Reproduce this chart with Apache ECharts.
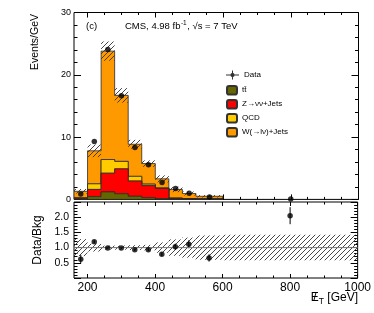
<!DOCTYPE html>
<html><head><meta charset="utf-8">
<script src="https://cdn.jsdelivr.net/npm/echarts@6/dist/echarts.min.js"></script>
<style>html,body{margin:0;padding:0;background:#fff}#c{width:374px;height:313px}</style>
</head><body><div id="c"></div>
<script>
// ---- data ----
const binEdges = [160,200,240,280,320,360,400,440,480,520,600];
const ttbar = [0.05,0.45,1.2,0.9,0.5,0.27,0.12,0.05,0.03,0.02];
const zjets = [0.15,1.15,3.0,4.0,2.45,1.93,1.63,0.12,0.07,0.03];
const qcd   = [0.05,0.9,2.2,1.2,0.75,0.25,0.1,0.03,0.02,0.01];
const wjets = [1.05,5.3,17.4,10.6,5.15,3.3,1.45,1.4,0.83,0.44];
const ratioEdges = [160,200,240,280,320,360,400,440,480,520,600,1000];
const relUnc = [0.28,0.13,0.065,0.07,0.08,0.09,0.17,0.27,0.33,0.40,0.42];
const dataX = [180,220,260,300,340,380,420,460,500,560,800];
const dataY = [0.85,9.3,24.05,16.65,8.35,5.55,2.7,1.75,1.0,0.4,0.08];
const ratioY = [0.62,1.19,0.99,0.99,0.93,0.93,0.78,1.03,1.11,0.66,2.05];
const ratioErr = [0.14,0.05,0.03,0.03,0.04,0.05,0.06,0.1,0.13,0.12,0.28];
const xMajor = [200,400,600,800,1000];
const xMinor = [250,300,350,450,500,550,650,700,750,850,900,950];
const legendNames = ['tt\u0304','Z\u2192\u03bd\u03bd+Jets','QCD','W(\u2192l\u03bd)+Jets'];
const colors = ['#666600','#ff0000','#ffcc00','#ff9900'];

const FONT = '"Liberation Sans", Arial, Helvetica, sans-serif';
const layers = [ttbar, zjets, qcd, wjets];
const lowers = [], uppers = [];
let run = ttbar.map(() => 0);
layers.forEach(l => { lowers.push(run.slice()); run = run.map((v,i) => v + l[i]); uppers.push(run.slice()); });
const total = run;

// hatch pattern
const hc = document.createElement('canvas'); hc.width = 5; hc.height = 5;
const hg = hc.getContext('2d'); hg.strokeStyle = '#333'; hg.lineWidth = 0.9;
hg.beginPath(); hg.moveTo(0,5); hg.lineTo(5,0); hg.moveTo(-1,1); hg.lineTo(1,-1); hg.moveTo(4,6); hg.lineTo(6,4); hg.stroke();
const hatch = {image: hc, repeat: 'repeat'};

const mc = document.createElement('canvas').getContext('2d');
function tw(t, s){ mc.font = s + 'px ' + FONT; return mc.measureText(t).width; }

function layerSeries(k){
  return {
    type:'custom', name: legendNames[k], xAxisIndex:0, yAxisIndex:0,
    itemStyle:{color: colors[k], borderColor:'#333', borderWidth:0.8},
    data:[[binEdges[0], 0]], clip:true, silent:true,
    renderItem(params, api){
      const lo = lowers[k], hi = uppers[k], pts = [];
      for (let i=0;i<hi.length;i++){ pts.push(api.coord([binEdges[i],hi[i]])); pts.push(api.coord([binEdges[i+1],hi[i]])); }
      for (let i=lo.length-1;i>=0;i--){ pts.push(api.coord([binEdges[i+1],lo[i]])); pts.push(api.coord([binEdges[i],lo[i]])); }
      return {type:'polygon', shape:{points:pts}, style:{fill:colors[k], stroke:'#2a2a2a', lineWidth:0.8}};
    }
  };
}

function xAx(grid, pos, vals, len, labels){
  return {type:'value', gridIndex:grid, position:pos, min:160, max:1000,
    axisLine:{show:false}, splitLine:{show:false},
    axisTick:{show:true, inside:true, length:len, customValues:vals, lineStyle:{color:'#000'}},
    axisLabel: labels ? {show:true, customValues:vals, fontSize:12, fontFamily:FONT, color:'#000', margin:4, formatter:v=>String(v)} : {show:false, customValues:vals}};
}
function yAx(grid, pos, max, interval, labels, fs, fmt, margin){
  return {type:'value', gridIndex:grid, position:pos, min:0, max:max, interval:interval,
    axisLine:{show:false}, splitLine:{show:false},
    axisTick:{show:true, inside:true, length:7, lineStyle:{color:'#000'}},
    minorTick:{show:true, splitNumber:5, length:3.5, lineStyle:{color:'#000'}},
    axisLabel: labels ? {show:true, fontSize:fs, fontFamily:FONT, color:'#000', margin:margin, formatter:fmt} : {show:false}};
}

const dataIcon = 'path://M0,4 L13,4 L13,5 L0,5 Z M6,0 L7,0 L7,9 L6,9 Z M8.7,4.5 L8.06,6.06 L6.5,6.7 L4.94,6.06 L4.3,4.5 L4.94,2.94 L6.5,2.3 L8.06,2.94 Z';

const chart = echarts.init(document.getElementById('c'), null, {renderer:'canvas'});

// x-title pieces
const xr = 358;
const wG = tw(' [GeV]', 12), wT = tw('T', 8.5), wE = tw('E', 12);
const xG = xr - wG, xT = xG - wT, xE = xT - wE;
const cmsA = 'CMS, 4.98 fb', cmsB = '-1', cmsC = ', \u221as = 7 TeV';
const cx0 = 125, cA = tw(cmsA, 9.5), cB = tw(cmsB, 6.5);

chart.setOption({
  animation:false,
  backgroundColor:'#fff',
  textStyle:{fontFamily:FONT},
  grid:[
    {left:74, top:12.5, width:284.5, height:186.9, show:true, borderColor:'#000', borderWidth:1, backgroundColor:'transparent', containLabel:false},
    {left:74, top:202, width:284.5, height:76, show:true, borderColor:'#000', borderWidth:1, backgroundColor:'transparent', containLabel:false}
  ],
  xAxis:[
    xAx(0,'bottom',xMajor,5,false), xAx(0,'bottom',xMinor,2.5,false),
    xAx(0,'top',xMajor,5,false), xAx(0,'top',xMinor,2.5,false),
    xAx(1,'bottom',xMajor,4,true), xAx(1,'bottom',xMinor,2.5,false),
    xAx(1,'top',xMajor,4,false), xAx(1,'top',xMinor,2.5,false)
  ],
  yAxis:[
    yAx(0,'left',30,10,true,9,v=>String(v),3),
    yAx(0,'right',30,10,false),
    yAx(1,'left',2.5,0.5,true,10.5,v=>(v<=0||v>=2.5)?'':v.toFixed(1),5),
    yAx(1,'right',2.5,0.5,false)
  ],
  legend:[
    {data:[{name:'Data', icon:dataIcon}], left:226, top:70.5, itemWidth:13, itemHeight:9, itemTextGap:3,
     textStyle:{fontSize:8, fontFamily:FONT, color:'#000'}, selectedMode:false, padding:0},
    {data:legendNames, orient:'vertical', left:226, top:85, itemWidth:10, itemHeight:8.5, itemGap:3.5, itemTextGap:7,
     textStyle:{fontSize:8, fontFamily:FONT, color:'#000'}, selectedMode:false, padding:0}
  ],
  graphic:[
    {type:'text', x:86, y:26.7, style:{text:'(c)', fontSize:9.5, fontFamily:FONT, fill:'#000', verticalAlign:'middle'}},
    {type:'text', x:cx0, y:26.7, style:{text:cmsA, fontSize:9.5, fontFamily:FONT, fill:'#000', verticalAlign:'middle'}},
    {type:'text', x:cx0+cA+0.5, y:23.5, style:{text:cmsB, fontSize:6.5, fontFamily:FONT, fill:'#000', verticalAlign:'middle'}},
    {type:'text', x:cx0+cA+cB+1, y:26.7, style:{text:cmsC, fontSize:9.5, fontFamily:FONT, fill:'#000', verticalAlign:'middle'}},
    {type:'text', x:35, y:42, rotation:Math.PI/2, style:{text:'Events/GeV', fontSize:10.5, fontFamily:FONT, fill:'#000', align:'center', verticalAlign:'middle'}},
    {type:'text', x:37.5, y:240, rotation:Math.PI/2, style:{text:'Data/Bkg', fontSize:12, fontFamily:FONT, fill:'#000', align:'center', verticalAlign:'middle'}},
    {type:'text', x:xE, y:298, style:{text:'E', fontSize:12, fontFamily:FONT, fill:'#000', verticalAlign:'middle'}},
    {type:'text', x:xE + wE/2, y:298, style:{text:'/', fontSize:12, fontFamily:FONT, fill:'#000', align:'center', verticalAlign:'middle'}},
    {type:'text', x:xT, y:301.5, style:{text:'T', fontSize:8.5, fontFamily:FONT, fill:'#000', verticalAlign:'middle'}},
    {type:'text', x:xG, y:298, style:{text:' [GeV]', fontSize:12, fontFamily:FONT, fill:'#000', verticalAlign:'middle'}}
  ],
  series:[
    layerSeries(3), layerSeries(2), layerSeries(1), layerSeries(0),
    {type:'custom', name:'unc', xAxisIndex:0, yAxisIndex:0, silent:true,
     data: total.map((t,i)=>[binEdges[i], t]),
     renderItem(params, api){
       const i = params.dataIndex, t = total[i], u = relUnc[i];
       const p1 = api.coord([binEdges[i], t*(1+u)]), p2 = api.coord([binEdges[i+1], t*(1-u)]);
       return {type:'rect', shape:{x:p1[0], y:p1[1], width:p2[0]-p1[0], height:p2[1]-p1[1]}, style:{fill:hatch}};
     }},
    {type:'scatter', name:'Data', xAxisIndex:0, yAxisIndex:0, symbol:'circle', symbolSize:5.5,
     itemStyle:{color:'#000'}, data: dataX.map((x,i)=>[x, dataY[i]]), z:5},
    {type:'custom', name:'runc', xAxisIndex:4, yAxisIndex:2, silent:true,
     data: relUnc.map((u,i)=>[ratioEdges[i], 1]),
     renderItem(params, api){
       const i = params.dataIndex, u = relUnc[i];
       const p1 = api.coord([ratioEdges[i], 1+u]), p2 = api.coord([ratioEdges[i+1], 1-u]);
       return {type:'rect', shape:{x:p1[0], y:p1[1], width:p2[0]-p1[0], height:p2[1]-p1[1]}, style:{fill:hatch}};
     }},
    {type:'line', name:'one', xAxisIndex:4, yAxisIndex:2, symbol:'none', silent:true,
     lineStyle:{color:'#777', width:1}, data:[[160,1],[1000,1]]},
    {type:'custom', name:'rerr', xAxisIndex:4, yAxisIndex:2, silent:true,
     data: dataX.map((x,i)=>[x, ratioY[i]]),
     renderItem(params, api){
       const i = params.dataIndex;
       const a = api.coord([dataX[i], ratioY[i]-ratioErr[i]]), b = api.coord([dataX[i], ratioY[i]+ratioErr[i]]);
       return {type:'line', shape:{x1:a[0], y1:a[1], x2:b[0], y2:b[1]}, style:{stroke:'#000', lineWidth:1}};
     }},
    {type:'scatter', name:'ratio', xAxisIndex:4, yAxisIndex:2, symbol:'circle', symbolSize:5.5,
     itemStyle:{color:'#000'}, data: dataX.map((x,i)=>[x, ratioY[i]]), z:5}
  ]
});
</script>
</body></html>
